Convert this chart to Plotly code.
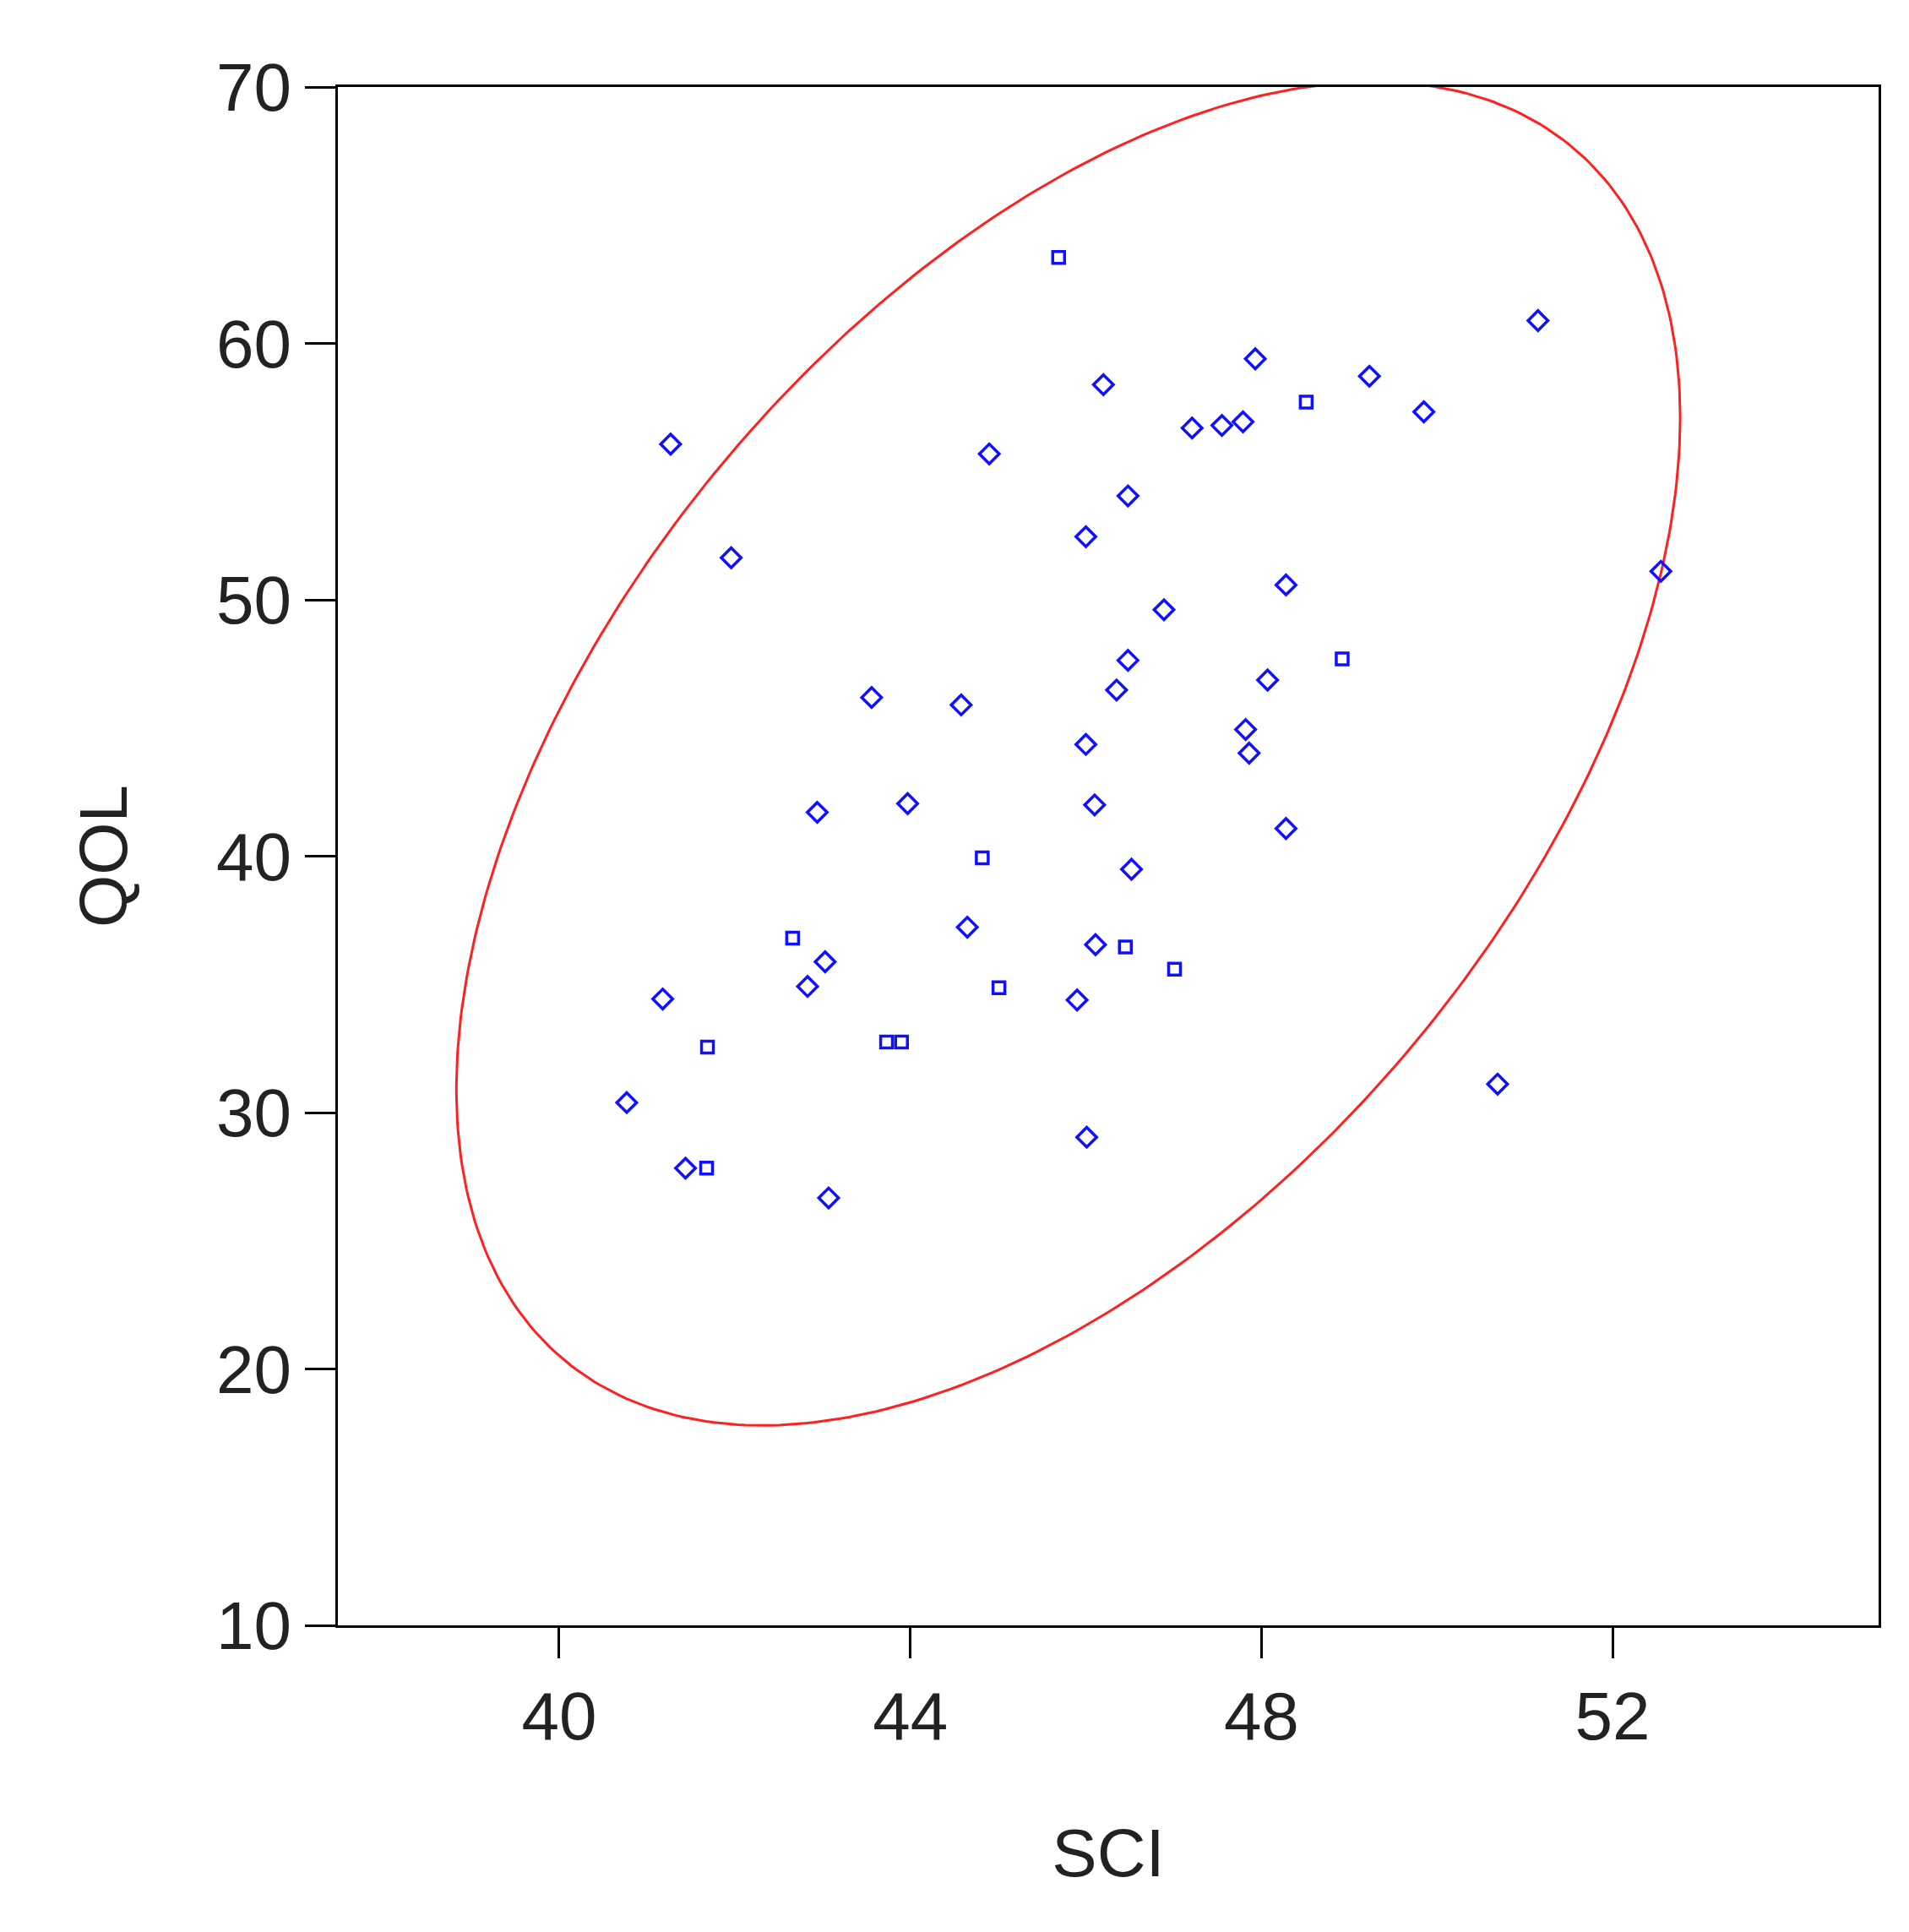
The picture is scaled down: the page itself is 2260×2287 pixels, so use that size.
import numpy as np
import plotly.graph_objects as go

diamond_x = [41.27,41.96,46.20,44.90,47.93,49.23,49.85,47.21,47.55,47.79,51.15,46.48,46.00,48.28,46.89,52.55,
             46.48,46.35,48.07,43.56,44.58,46.00,47.82,47.86,42.94,43.97,46.10,48.28,46.52,43.03,44.65,42.83,
             46.11,45.90,41.18,40.77,41.44,43.07,46.01,50.69]
diamond_y = [56.07,51.64,58.39,55.69,59.40,58.72,57.33,56.70,56.80,56.94,60.89,54.05,52.46,50.58,49.61,51.11,
             47.64,46.48,46.87,46.19,45.90,44.36,44.94,44.02,41.71,42.05,42.00,41.08,39.49,35.88,37.23,34.92,
             36.55,34.39,34.43,30.39,27.83,26.67,29.04,31.11]
square_x = [45.69,48.51,48.92,44.82,42.66,45.01,46.45,47.01,41.69,43.73,43.90,41.68]
square_y = [63.35,57.71,47.69,39.93,36.80,34.87,36.46,35.59,32.55,32.75,32.75,27.83]

# ellipse parameters (center, half-extents, phase)
ell_cx, ell_cy = 45.8, 44.0
ell_rx, ell_ry = 6.97, 26.2
ell_cosd = 0.50

t = np.linspace(0, 2*np.pi, 400)
d = np.arccos(ell_cosd)
ex = ell_cx + ell_rx*np.cos(t)
ey = ell_cy + ell_ry*np.cos(t - d)

font = "Liberation Sans, Arial"
fig = go.Figure()
fig.add_trace(go.Scatter(x=ex, y=ey, mode="lines", line=dict(color="#ff2020", width=3), hoverinfo="skip"))
fig.add_trace(go.Scatter(x=diamond_x, y=diamond_y, mode="markers",
                         marker=dict(symbol="diamond-open", size=18, color="#1010ff", line=dict(width=3.5))))
fig.add_trace(go.Scatter(x=square_x, y=square_y, mode="markers",
                         marker=dict(symbol="square-open", size=14, color="#1010ff", line=dict(width=3.5))))

axis_common = dict(showgrid=False, zeroline=False, showline=True, linecolor="black", linewidth=3,
                   mirror=True, ticks="outside", ticklen=36, tickwidth=3, tickcolor="black",
                   tickfont=dict(family=font, size=80, color="#222"))
fig.update_layout(
    width=2260, height=2287, showlegend=False,
    plot_bgcolor="white", paper_bgcolor="white",
    margin=dict(l=392, r=44, t=95, b=371),
    xaxis=dict(range=[37.48, 55.03], tickvals=[40, 44, 48, 52],
               title=dict(text="SCI", font=dict(family=font, size=80, color="#222"), standoff=90),
               **axis_common),
    yaxis=dict(range=[10, 70], tickvals=[10, 20, 30, 40, 50, 60, 70],
               title=dict(text="QOL", font=dict(family=font, size=80, color="#222"), standoff=80),
               **axis_common),
)
fig.write_html("out.html")
